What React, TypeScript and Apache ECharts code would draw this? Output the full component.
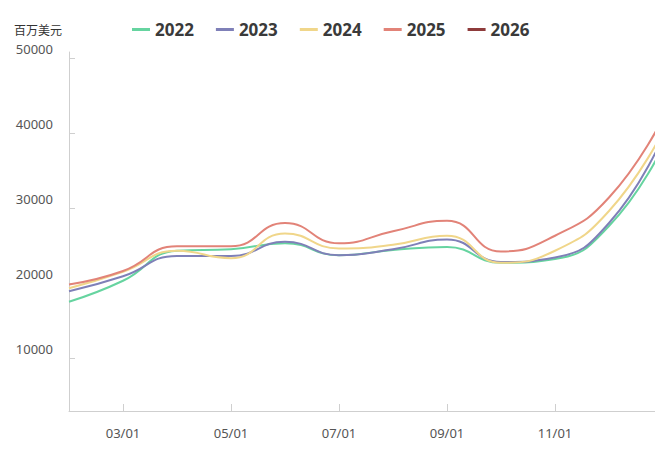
import React, { useEffect, useRef } from "react";
import * as echarts from "echarts";

const categories = ["02/01", "03/01", "04/01", "05/01", "06/01", "07/01", "08/01", "09/01", "10/01", "11/01", "12/01", "01/01"];
const seriesNames = ["2022", "2023", "2024", "2025", "2026"];
const values2022 = [17500, 20300, 24300, 24500, 25300, 23700, 24400, 24800, 22700, 23200, 27600, 38200];
const values2023 = [18900, 20900, 23600, 23600, 25500, 23700, 24500, 25800, 22800, 23400, 28000, 39500];
const values2024 = [19300, 21500, 24300, 23300, 26600, 24600, 25100, 26300, 22700, 24300, 29600, 40200];
const values2025 = [19800, 21600, 24900, 24900, 28000, 25300, 26900, 28300, 24200, 26300, 31400, 42000];
const values2026: number[] = [];
const yTicks = [10000, 20000, 30000, 40000, 50000];
const colors = ["#66d4a0", "#7f80b8", "#f0d68a", "#e28378", "#8e3b3b"];

export default function App() {
  const ref = useRef<HTMLDivElement>(null);
  useEffect(() => {
    if (!ref.current) return;
    const chart = echarts.init(ref.current, null, { renderer: "svg" });
    const allValues = [values2022, values2023, values2024, values2025, values2026];
    const showIdx = (i: number) => i % 2 === 1 && i < 11;
    chart.setOption({
      animation: false,
      color: colors,
      textStyle: { fontFamily: "'Noto Sans', 'Noto Sans CJK SC', sans-serif" },
      legend: {
        left: 132,
        top: 21,
        padding: 0,
        itemWidth: 18,
        itemHeight: 3,
        itemGap: 22,
        data: seriesNames.map((n, i) => ({
          name: n,
          icon: "rect",
          itemStyle: { color: colors[i] },
        })),
        textStyle: { fontSize: 17, fontWeight: "bold", color: "#3a3a3a" },
      },
      grid: { left: 69, right: 0, top: 52, bottom: 39 },
      xAxis: {
        type: "category",
        data: categories,
        boundaryGap: false,
        axisLine: { lineStyle: { color: "#cfcfcf" } },
        axisTick: { inside: true, length: 7, interval: (i: number) => showIdx(i), lineStyle: { color: "#cfcfcf" } },
        axisLabel: { interval: (i: number) => showIdx(i), color: "#555", fontSize: 13, margin: 15 },
      },
      yAxis: {
        type: "value",
        min: 2933,
        max: 50800,
        name: "百万美元",
        nameLocation: "end",
        nameGap: 22,
        nameTextStyle: { align: "right", verticalAlign: "middle", color: "#333", fontSize: 12, padding: [0, 7, 0, 0] },
        splitLine: { show: false },
        axisLine: { show: true, lineStyle: { color: "#cfcfcf" } },
        axisTick: { show: true, inside: true, length: 6, customValues: yTicks, lineStyle: { color: "#cfcfcf" } },
        axisLabel: {
          customValues: yTicks,
          color: "#555",
          fontSize: 13,
          margin: 16,
          verticalAlign: "bottom",
          lineHeight: 18,
          formatter: (v: number) => String(v),
        },
      },
      series: seriesNames.map((n, i) => ({
        name: n,
        type: "line",
        data: allValues[i],
        smooth: true,
        showSymbol: false,
        lineStyle: { width: i === 4 ? 4 : 2, color: colors[i] },
        itemStyle: { color: colors[i] },
      })),
    });
    return () => chart.dispose();
  }, []);
  return <div ref={ref} style={{ width: 663, height: 450, margin: -8 }} />;
}
